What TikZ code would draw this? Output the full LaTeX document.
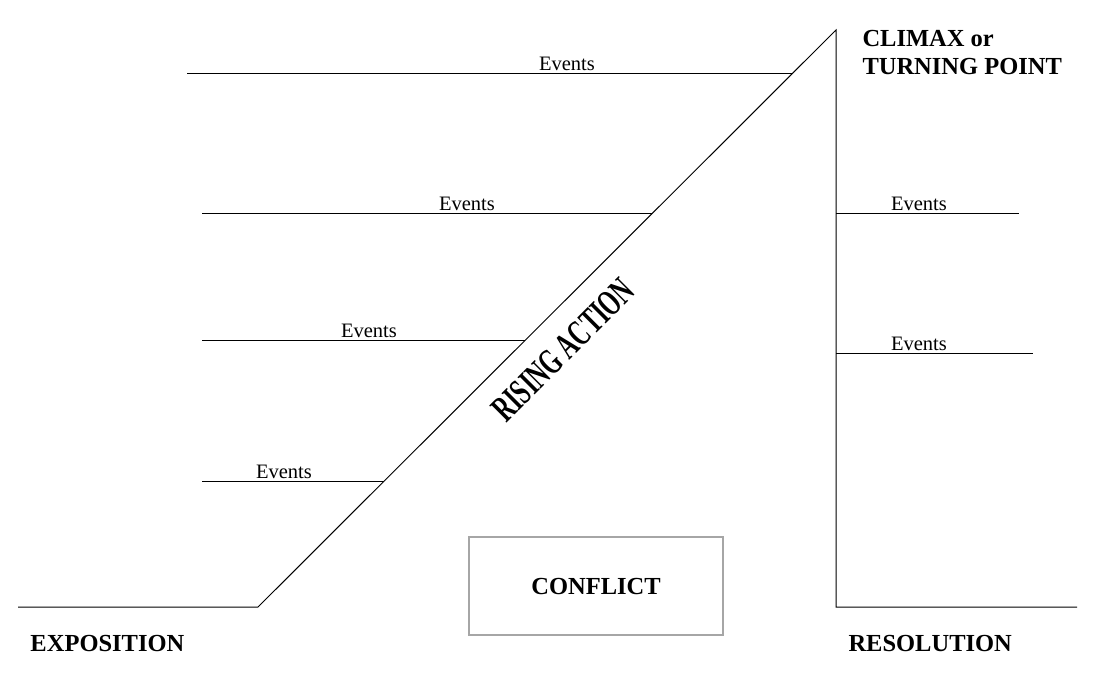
\documentclass[tikz,border=0pt]{standalone}
\usepackage{fontspec}
\setmainfont{Liberation Serif}
\usetikzlibrary{calc}

\begin{document}
\begin{tikzpicture}[x=1pt,y=-1pt,line width=1pt,
        events/.style={font=\fontsize{20.5}{24}\selectfont,anchor=base,inner sep=0pt},
        stage/.style={font=\fontsize{24.5}{28}\selectfont\bfseries,anchor=base west,inner sep=0pt}]
        \useasboundingbox (0,0) rectangle (1100,672);
        % Draw plot line
        \coordinate (start) at (18,607);
        \coordinate (rise) at (258,607);
        \coordinate (peak) at (836,30);
        \coordinate (fall) at (836,607);
        \coordinate (end) at (1077,607);
        \draw (start) -- (rise) -- (peak) -- (fall) -- (end);
        % Events of the rising action
        \foreach \y/\xl/\xt [count=\i] in {73/187/567,213/202/467,340/202/369,481/202/284} {
            \coordinate (l\i) at (\xl,\y);
            \coordinate (r\i) at ({865-\y},\y);
            \draw (l\i) -- (r\i);
            \node[events] (ev\i) at (\xt,\y-3) {Events};
        }
        % Events of the resolution
        \foreach \y/\xr [count=\i] in {213/1019,353/1033} {
            \coordinate (fl\i) at (836,\y);
            \coordinate (fr\i) at (\xr,\y);
            \draw (fl\i) -- (fr\i);
            \node[events] (fev\i) at (919,\y-3) {Events};
        }
        % Labels
        \node[rotate=45,xscale=0.64,inner sep=0pt,font=\fontsize{37}{40}\selectfont\bfseries] (rising) at (563,350) {RISING ACTION};
        \node[draw=gray!70,line width=1.3pt,minimum width=254pt,minimum height=98pt,
            font=\fontsize{24.5}{28}\selectfont\bfseries] (conflict) at (596,586) {CONFLICT};
        \node[stage] (exposition) at (30,651) {EXPOSITION};
        \node[stage] (resolution) at (848,651) {RESOLUTION};
        \node[stage] (climax) at (862,46) {CLIMAX or};
        \node[stage] (turning) at (862,74) {TURNING POINT};
\end{tikzpicture}
\end{document}
